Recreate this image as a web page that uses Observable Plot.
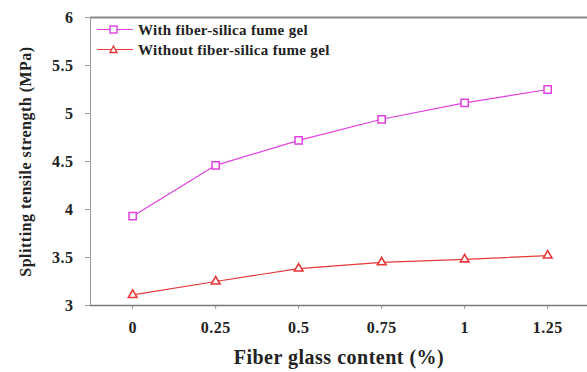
<!DOCTYPE html>
<html><head><meta charset="utf-8">
<script src="https://cdn.jsdelivr.net/npm/d3@7"></script>
<script src="https://cdn.jsdelivr.net/npm/@observablehq/plot@0.6"></script>
<style>
body{margin:0;background:#fff;}
#wrap{position:relative;width:587px;height:372px;font-family:"Liberation Serif","Times New Roman",Tinos,"DejaVu Serif",serif;font-weight:bold;}
#wrap svg text{font-family:"Liberation Serif","Times New Roman",Tinos,"DejaVu Serif",serif !important;}
#legend{position:absolute;left:97px;top:20px;font-size:15px;color:#222;letter-spacing:0.3px;}
#legend div{display:flex;align-items:center;height:20px;}
#legend svg{margin-right:5px;}
</style></head>
<body><div id="wrap"><div id="legend"></div></div>
<script>
const fiber = [0, 0.25, 0.5, 0.75, 1, 1.25];
const withGel = [3.93, 4.46, 4.72, 4.94, 5.11, 5.25];
const withoutGel = [3.11, 3.25, 3.385, 3.45, 3.48, 3.52];
const seriesNames = ["With fiber-silica fume gel", "Without fiber-silica fume gel"];
const seriesColors = ["#e040e0", "#e83838"];
const seriesSymbols = ["square", "triangle"];
const xTicks = [0, 0.25, 0.5, 0.75, 1, 1.25];
const yTicks = [3, 3.5, 4, 4.5, 5, 5.5, 6];

const serif = "'Liberation Serif', 'Times New Roman', Tinos, 'DejaVu Serif', serif";
const withData = fiber.map((f, i) => ({x: f, y: withGel[i], s: seriesNames[0]}));
const withoutData = fiber.map((f, i) => ({x: f, y: withoutGel[i], s: seriesNames[1]}));

const plot = Plot.plot({
  width: 587, height: 372,
  marginLeft: 90, marginRight: 0, marginTop: 17, marginBottom: 67,
  style: {fontFamily: serif, fontWeight: "bold", background: "white", color: "#222", letterSpacing: "0.5px"},
  x: {domain: [-0.127, 1.37]},
  y: {domain: [3, 6]},
  color: {domain: seriesNames, range: seriesColors},
  symbol: {domain: seriesNames, range: seriesSymbols},
  marks: [
    Plot.axisX({ticks: xTicks, tickFormat: d => String(d), tickSize: 4, tickPadding: 12, fontSize: 16, label: null, stroke: "#999"}),
    Plot.axisY({ticks: yTicks, tickFormat: d => String(d), tickSize: 5, tickPadding: 12, fontSize: 16, label: null, stroke: "#999"}),
    Plot.text(["Fiber glass content (%)"], {frameAnchor: "bottom", dy: 58, fontSize: 20, fill: "#222"}),
    Plot.text(["Splitting tensile strength (MPa)"], {frameAnchor: "left", textAnchor: "middle", dx: -65, rotate: -90, fontSize: 16, fill: "#222"}),
    Plot.ruleY([6], {stroke: "#888", strokeWidth: 1.8}),
    Plot.ruleY([3], {stroke: "#777", strokeWidth: 1.3}),
    Plot.ruleX([-0.127], {stroke: "#999", strokeWidth: 1}),
    Plot.line(withData, {x: "x", y: "y", stroke: "s", strokeWidth: 1.2}),
    Plot.line(withoutData, {x: "x", y: "y", stroke: "s", strokeWidth: 1.2}),
    Plot.dot(withData, {x: "x", y: "y", stroke: "s", symbol: "s", fill: "white", r: 4.1, strokeWidth: 1.5}),
    Plot.dot(withoutData, {x: "x", y: "y", stroke: "s", symbol: "s", fill: "white", r: 3.2, strokeWidth: 1.6})
  ]
});
const wrap = document.getElementById("wrap");
wrap.insertBefore(plot, wrap.firstChild);

const legend = document.getElementById("legend");
seriesNames.forEach((n, i) => {
  const row = document.createElement("div");
  const shape = seriesSymbols[i] === "square"
    ? `<rect x="13" y="6" width="7" height="7" fill="white" stroke="${seriesColors[i]}" stroke-width="1.4"/>`
    : `<path d="M16.5,6 L20,12.5 L13,12.5 Z" fill="white" stroke="${seriesColors[i]}" stroke-width="1.4"/>`;
  row.innerHTML = `<svg width="36" height="20"><line x1="0" x2="36" y1="9.5" y2="9.5" stroke="${seriesColors[i]}" stroke-width="1.2"/>${shape}</svg><span>${n}</span>`;
  legend.appendChild(row);
});
</script></body></html>
